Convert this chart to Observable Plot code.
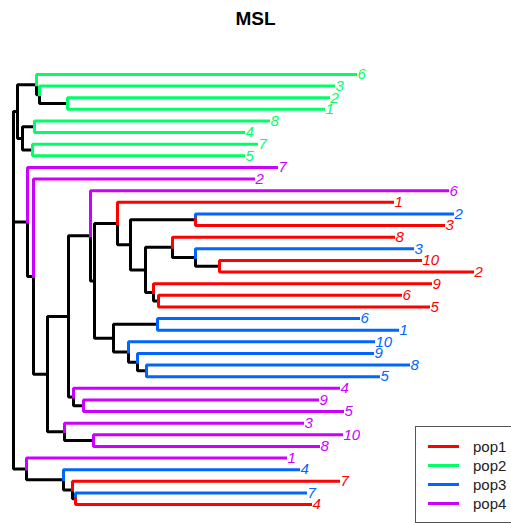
<!DOCTYPE html>
<html>
<head>
<meta charset="utf-8">
<script src="https://cdn.jsdelivr.net/npm/d3@7"></script>
<script src="https://cdn.jsdelivr.net/npm/@observablehq/plot@0.6"></script>
<style>
  html, body { margin: 0; padding: 0; background: #fff; }
  #wrap { position: relative; width: 511px; height: 523px; overflow: hidden; font-family: "Liberation Sans", Arial, sans-serif; }
  #title { position: absolute; left: 0; top: 0; width: 511px; text-align: center; font-weight: bold; font-size: 19px; line-height: 37px; color: #000; }
  #chart { position: absolute; left: 0; top: 40px; }
  #legend { position: absolute; left: 415px; top: 426px; width: 120px; height: 95px; border: 1px solid #555; background: #fff; }
  .lg { position: absolute; left: 12px; height: 19px; display: flex; align-items: center; font-size: 15px; color: #222; }
  .lg span.sw { display: inline-block; width: 31px; height: 3px; margin-right: 14px; }
</style>
</head>
<body>
<div id="wrap">
  <div id="title">MSL</div>
  <div id="chart"></div>
  <div id="legend"></div>
</div>
<script>
// Populations and colours
const pops = ["pop1", "pop2", "pop3", "pop4"];
const popColors = ["#FF0000", "#00FF66", "#0066FF", "#CC00FF"];

// Internal nodes: name, parent, depth from root (distance)
const nodeNames   = ["R","G","G1","G1a","G1b","G2","G2a","G2b","M","M1","M2","M3","M5","M7","M8","M10","M11","M12","M13","M15","M16","M14","M17","M9","M18","M19","M20","M21","M6","M22","M4","M23","B","B1","B2","B3"];
const nodeParents = [null,"R","G","G1","G1a","G","G2","G2","R","M","M1","M2","M3","M5","M7","M8","M10","M10","M12","M13","M15","M12","M14","M7","M9","M9","M19","M20","M3","M6","M2","M4","R","B","B1","B2"];
const nodeDepths  = [0,0.004,0.023,0.026,0.054,0.009,0.021,0.019,0.014,0.020,0.034,0.055,0.077,0.081,0.104,0.117,0.182,0.132,0.159,0.182,0.206,0.140,0.145,0.100,0.144,0.115,0.124,0.133,0.060,0.070,0.051,0.080,0.013,0.050,0.059,0.062];

// Tips, top to bottom
const tipLabels  = ["6","3","2","1","8","4","7","5","7","2","6","1","2","3","8","3","10","2","9","6","5","6","1","10","9","8","5","4","9","5","3","10","8","1","4","7","7","4"];
const tipPops    = ["pop2","pop2","pop2","pop2","pop2","pop2","pop2","pop2","pop4","pop4","pop4","pop1","pop3","pop1","pop1","pop3","pop1","pop1","pop1","pop1","pop1","pop3","pop3","pop3","pop3","pop3","pop3","pop4","pop4","pop4","pop4","pop4","pop4","pop4","pop3","pop1","pop3","pop1"];
const tipParents = ["G1","G1a","G1b","G1b","G2a","G2a","G2b","G2b","M","M1","M5","M8","M11","M11","M13","M15","M16","M16","M14","M17","M17","M18","M18","M19","M20","M21","M21","M6","M22","M22","M4","M23","M23","B","B1","B2","B3","B3"];
const tipDepths  = [0.342,0.320,0.315,0.310,0.255,0.230,0.243,0.230,0.263,0.240,0.434,0.379,0.439,0.430,0.380,0.399,0.407,0.459,0.417,0.387,0.415,0.345,0.384,0.360,0.359,0.395,0.365,0.325,0.304,0.329,0.289,0.328,0.305,0.272,0.285,0.325,0.292,0.297];

// ---- build layout ----
const nodes = new Map();
nodeNames.forEach((n, i) => nodes.set(n, {id: n, parent: nodeParents[i], x: nodeDepths[i], children: [], tip: false}));
tipLabels.forEach((l, i) => {
  const id = "t" + i;
  nodes.set(id, {id, parent: tipParents[i], x: tipDepths[i], children: [], tip: true, y: i, label: l, pop: tipPops[i]});
});
for (const n of nodes.values()) if (n.parent) nodes.get(n.parent).children.push(n);
function minTip(n) { return n.tip ? n.y : Math.min(...n.children.map(minTip)); }
function setY(n) {
  if (n.tip) return n.y;
  n.children.sort((a, b) => minTip(a) - minTip(b));
  const ys = n.children.map(setY);
  n.y = (ys[0] + ys[ys.length - 1]) / 2;
  return n.y;
}
setY(nodes.get("R"));

const colorOf = p => popColors[pops.indexOf(p)];
const pts = [];
let k = 0;
for (const n of nodes.values()) {
  if (!n.parent) continue;
  const p = nodes.get(n.parent);
  const c = n.tip ? colorOf(n.pop) : "#000";
  const order = n.tip ? 1 : 0;
  pts.push({e: k, x: p.x, y: p.y, c, o: order}, {e: k, x: p.x, y: n.y, c, o: order}, {e: k, x: n.x, y: n.y, c, o: order});
  k++;
}
pts.sort((a, b) => a.o - b.o || a.e - b.e);
const tips = [...nodes.values()].filter(n => n.tip);
const root = nodes.get("R");

const chart = Plot.plot({
  width: 511,
  height: 483,
  marginLeft: 13,
  marginRight: 39,
  marginTop: 34,
  marginBottom: 19,
  x: {domain: [0, 0.459], axis: null},
  y: {domain: [0, tipLabels.length - 1], reverse: true, axis: null},
  style: {fontFamily: "Liberation Sans, Arial, sans-serif", background: "transparent", overflow: "visible"},
  marks: [
    Plot.ruleX([root], {x: "x", y1: d => Math.min(...d.children.map(c => c.y)), y2: d => Math.max(...d.children.map(c => c.y)), stroke: "#000", strokeWidth: 3}),
    Plot.line(pts, {x: "x", y: "y", z: "e", stroke: "c", strokeWidth: 3, strokeLinejoin: "miter", strokeLinecap: "square", curve: "linear"}),
    Plot.text(tips, {x: "x", y: "y", text: "label", fill: d => colorOf(d.pop), textAnchor: "start", dx: 2, fontSize: 15, fontStyle: "italic", lineAnchor: "middle"})
  ]
});
document.getElementById("chart").appendChild(chart);

// legend
const lg = document.getElementById("legend");
pops.forEach((p, i) => {
  const row = document.createElement("div");
  row.className = "lg";
  row.style.top = (10 + i * 19) + "px";
  row.innerHTML = `<span class="sw" style="background:${popColors[i]}"></span>${p}`;
  lg.appendChild(row);
});
</script>
</body>
</html>
